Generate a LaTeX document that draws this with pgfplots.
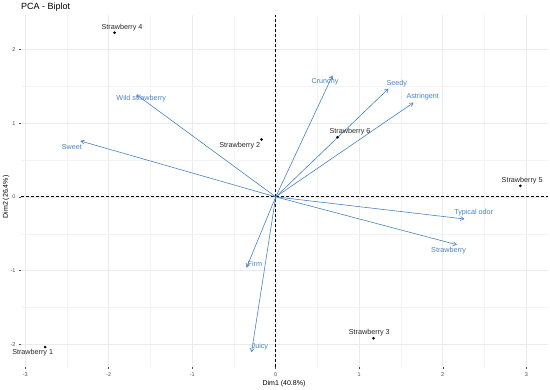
\documentclass[border=0pt]{standalone}
\usepackage{pgfplots}
\pgfplotsset{compat=1.18}
\usepackage{fontspec}
\setmainfont{Liberation Sans}
\usetikzlibrary{arrows.meta}
\definecolor{steel}{RGB}{70,130,190}
\definecolor{gridc}{RGB}{235,235,235}
\definecolor{tickc}{RGB}{77,77,77}
\begin{document}
\begin{tikzpicture}[x=1pt,y=1pt]
\useasboundingbox (0,0) rectangle (550,390);
\begin{axis}[
  at={(21pt,23pt)}, anchor=south west,
  scale only axis, width=527pt, height=352pt,
  xmin=-3.05, xmax=3.26, ymin=-2.31, ymax=2.47,
  xtick={-3,-2,...,3}, ytick={-2,-1,0,1,2},
  minor xtick={-2.5,-1.5,...,2.5}, minor ytick={-1.5,-0.5,...,1.5},
  grid=both,
  major grid style={gridc, line width=0.6pt},
  minor grid style={gridc!60, line width=0.4pt},
  axis line style={draw=none},
  tick align=outside, major tick length=2pt, minor tick length=0pt,
  tick style={tickc, line width=0.5pt},
  tick label style={font=\fontsize{5.5}{6}\selectfont, text=tickc},
  /pgf/number format/assume math mode=true,
  xtick pos=bottom, ytick pos=left,
  clip=false,
]
% reference lines
\addplot[black, line width=0.8pt, dash pattern=on 3pt off 2pt] coordinates {(0,-2.31) (0,2.47)};
\addplot[black, line width=0.8pt, dash pattern=on 3pt off 2pt] coordinates {(-3.05,0) (3.26,0)};
% variable arrows
\pgfplotsset{varr/.style={steel, line width=0.6pt, -{Straight Barb[angle=60:4pt]}}}
\addplot[varr] coordinates {(0,0) (-1.67,1.39)};
\addplot[varr] coordinates {(0,0) (-2.34,0.76)};
\addplot[varr] coordinates {(0,0) (0.68,1.65)};
\addplot[varr] coordinates {(0,0) (1.35,1.47)};
\addplot[varr] coordinates {(0,0) (1.65,1.28)};
\addplot[varr] coordinates {(0,0) (2.26,-0.30)};
\addplot[varr] coordinates {(0,0) (2.17,-0.65)};
\addplot[varr] coordinates {(0,0) (-0.35,-0.96)};
\addplot[varr] coordinates {(0,0) (-0.29,-2.11)};
% individuals
\addplot[only marks, mark=*, mark size=1.1pt, black] coordinates {
(-2.76,-2.04) (-0.17,0.78) (1.17,-1.92) (-1.93,2.23) (2.93,0.15) (0.74,0.81)};
% labels
\begin{scope}[every node/.style={font=\fontsize{7.2}{8}\selectfont, text=black!85, inner sep=0pt}]
\node at (axis cs:-2.91,-2.12) {Strawberry 1};
\node at (axis cs:-0.43,0.70) {Strawberry 2};
\node at (axis cs:1.12,-1.84) {Strawberry 3};
\node at (axis cs:-1.84,2.30) {Strawberry 4};
\node at (axis cs:2.95,0.22) {Strawberry 5};
\node at (axis cs:0.89,0.89) {Strawberry 6};
\end{scope}
\begin{scope}[every node/.style={font=\fontsize{7.2}{8}\selectfont, text=steel, inner sep=0pt}]
\node at (axis cs:-1.61,1.34) {Wild strawberry};
\node at (axis cs:-2.44,0.68) {Sweet};
\node at (axis cs:0.59,1.57) {Crunchy};
\node at (axis cs:1.45,1.54) {Seedy};
\node at (axis cs:1.76,1.36) {Astringent};
\node at (axis cs:2.37,-0.22) {Typical odor};
\node at (axis cs:2.07,-0.73) {Strawberry};
\node at (axis cs:-0.25,-0.91) {Firm};
\node at (axis cs:-0.19,-2.04) {Juicy};
\end{scope}
\end{axis}
\node[anchor=west, font=\fontsize{9}{10}\selectfont, inner sep=0pt] at (21,383) {PCA - Biplot};
\node[font=\fontsize{7}{8}\selectfont, inner sep=0pt] at (284,6) {Dim1 (40.8\%)};
\node[rotate=90, font=\fontsize{7}{8}\selectfont, inner sep=0pt] at (6,193) {Dim2 (26.4\%)};
\end{tikzpicture}
\end{document}
